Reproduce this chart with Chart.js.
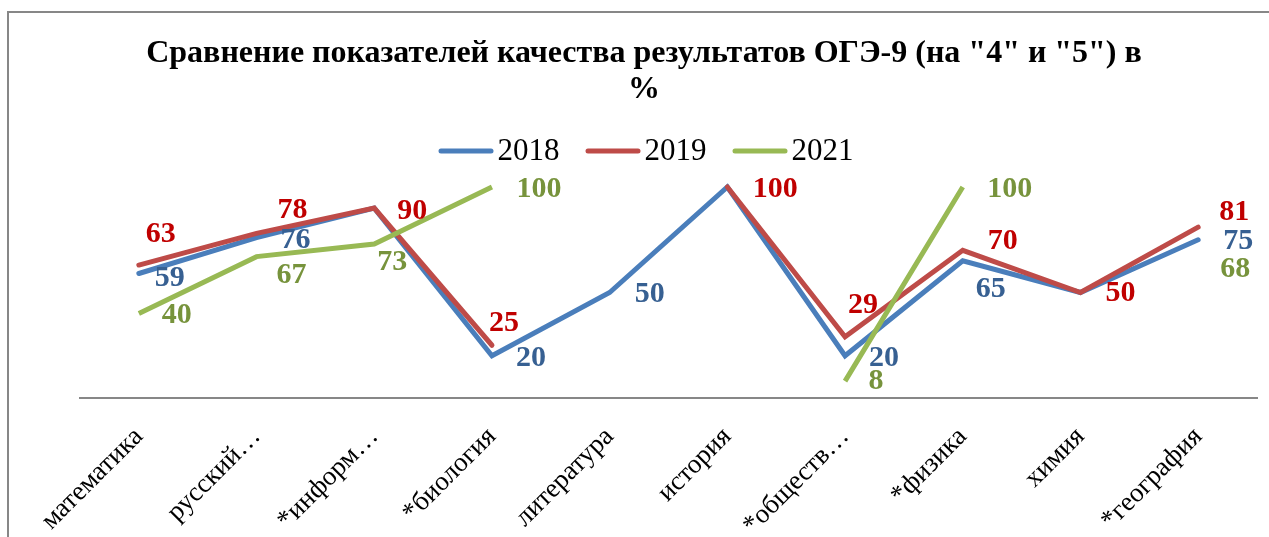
<!DOCTYPE html>
<html><head><meta charset="utf-8">
<script src="https://cdn.jsdelivr.net/npm/chart.js@4.4.0/dist/chart.umd.min.js"></script>
<style>html,body{margin:0;padding:0;background:#fff;} canvas{display:block;}</style>
</head><body>
<canvas id="c" width="1269" height="537"></canvas>
<script>
// ---- data ----
const categories = ["математика","русский…","*информ…","*биология","литература","история","*обществ…","*физика","химия","*география"];
const seriesNames = ["2018","2019","2021"];
const values2018 = [59, 76, 90, 20, 50, 100, 20, 65, 50, 75];
const values2019 = [63, 78, 90, 25, null, 100, 29, 70, 50, 81];
const values2021 = [40, 67, 73, 100, null, null, 8, 100, null, 68];
const titleLines = ['Сравнение показателей качества результатов ОГЭ-9 (на "4" и "5") в', '%'];

// ---- label placement (style, relative to each point) ----
const labelOffsets2018 = [[31,5],[39,3],null,[39,2],[40,2],null,[39,2],[28,28],null,[40,1]];
const labelOffsets2019 = [[22,-31],[36,-23],[38,3],[12,-22],null,[48,2],[18,-32],[40,-9],[40,1],[36,-15]];
const labelOffsets2021 = [[38,2],[35,19],[18,18],[47,2],null,null,[31,0],[47,2],null,[37,15]];

const SERIF = "'Liberation Serif','Times New Roman',serif";

const framePlugin = {
  id: 'frame',
  beforeDraw(chart) {
    const ctx = chart.ctx;
    ctx.save();
    ctx.fillStyle = '#fff';
    ctx.fillRect(0, 0, chart.width, chart.height);
    ctx.strokeStyle = '#878787';
    ctx.lineWidth = 2;
    ctx.beginPath();
    ctx.moveTo(8, chart.height + 5);
    ctx.lineTo(8, 12);
    ctx.lineTo(chart.width + 5, 12);
    ctx.stroke();
    ctx.restore();
  }
};

const legendPlugin = {
  id: 'customLegend',
  afterDraw(chart) {
    const o = chart.options.plugins.customLegend;
    const ctx = chart.ctx;
    ctx.save();
    ctx.font = o.fontSize + 'px ' + SERIF;
    const items = chart.data.datasets.map(d => ({text: d.label, color: d.borderColor, w: ctx.measureText(d.label).width}));
    let total = 0;
    items.forEach((it, i) => { total += o.lineLen + o.gap + it.w + (i ? o.spacing : 0); });
    let x = o.centerX - total / 2;
    items.forEach(it => {
      ctx.strokeStyle = it.color;
      ctx.lineWidth = 5;
      ctx.lineCap = 'round';
      ctx.beginPath();
      ctx.moveTo(x + 2.5, o.y);
      ctx.lineTo(x + o.lineLen - 2.5, o.y);
      ctx.stroke();
      x += o.lineLen + o.gap;
      ctx.fillStyle = '#000';
      ctx.textAlign = 'left';
      ctx.textBaseline = 'middle';
      ctx.fillText(it.text, x, o.y + 1);
      x += it.w + o.spacing;
    });
    ctx.restore();
  }
};

const valueLabelPlugin = {
  id: 'valueLabels',
  afterDatasetsDraw(chart) {
    const ctx = chart.ctx;
    ctx.save();
    ctx.font = 'bold 30px ' + SERIF;
    ctx.textAlign = 'center';
    ctx.textBaseline = 'middle';
    chart.data.datasets.forEach((ds, i) => {
      const meta = chart.getDatasetMeta(i);
      ds.data.forEach((v, j) => {
        const off = ds.labelOffsets[j];
        if (v === null || !off) return;
        const pt = meta.data[j];
        ctx.fillStyle = ds.labelColor;
        ctx.fillText(String(v), pt.x + off[0], pt.y + off[1]);
      });
    });
    ctx.restore();
  }
};

new Chart(document.getElementById('c'), {
  type: 'line',
  data: {
    labels: categories,
    datasets: [
      {label: seriesNames[0], data: values2018, borderColor: '#4A7EBB', backgroundColor: '#4A7EBB', labelColor: '#376092', labelOffsets: labelOffsets2018, order: 2},
      {label: seriesNames[1], data: values2019, borderColor: '#BE4B48', backgroundColor: '#BE4B48', labelColor: '#C00000', labelOffsets: labelOffsets2019, order: 1},
      {label: seriesNames[2], data: values2021, borderColor: '#98B954', backgroundColor: '#98B954', labelColor: '#77933C', labelOffsets: labelOffsets2021, order: 0, borderCapStyle: 'butt'}
    ]
  },
  options: {
    responsive: false,
    animation: false,
    devicePixelRatio: 1,
    layout: {padding: {left: 19, right: 0, top: 0, bottom: 0}},
    elements: {
      line: {borderWidth: 5, tension: 0, borderCapStyle: 'round', borderJoinStyle: 'miter', fill: false},
      point: {radius: 0, hoverRadius: 0}
    },
    spanGaps: false,
    plugins: {
      legend: {display: false},
      tooltip: {enabled: false},
      title: {
        display: true,
        text: titleLines,
        color: '#000',
        font: {family: SERIF, size: 32, weight: 'bold', lineHeight: 1.15},
        padding: {top: 35, bottom: 36.2}
      },
      customLegend: {centerX: 646, y: 151, fontSize: 31, lineLen: 55, gap: 4, spacing: 26}
    },
    scales: {
      x: {
        offset: true,
        grid: {display: false, drawTicks: false, offset: true},
        border: {display: true, color: '#878787', width: 2},
        ticks: {color: '#000', font: {family: SERIF, size: 27}, minRotation: 45, maxRotation: 45, autoSkip: false, padding: 23},
        afterFit(scale) { scale.height = 139; scale.paddingLeft = 0; scale.paddingRight = 0; }
      },
      y: {
        min: 0, max: 120,
        grid: {display: false, drawTicks: false},
        border: {display: false},
        ticks: {display: false},
        afterFit(scale) { scale.width = 61; }
      },
      yR: {
        position: 'right',
        min: 0, max: 120,
        grid: {display: false, drawTicks: false},
        border: {display: false},
        ticks: {display: false},
        afterFit(scale) { scale.width = 12; }
      }
    }
  },
  plugins: [framePlugin, legendPlugin, valueLabelPlugin]
});
</script>
</body></html>
